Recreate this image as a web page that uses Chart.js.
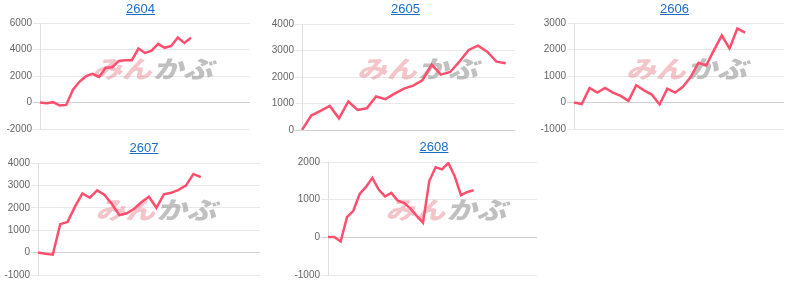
<!DOCTYPE html>
<html>
<head>
<meta charset="utf-8">
<script src="https://cdn.jsdelivr.net/npm/chart.js@4/dist/chart.umd.min.js"></script>
<style>
  html, body { margin: 0; padding: 0; background: #fff; width: 800px; height: 284px; overflow: hidden; position: relative; font-family: Arial, "Liberation Sans", sans-serif; }
  .box { position: absolute; }
  .ttl { position: absolute; left: 0; right: 0; top: 0; height: 18px; line-height: 18px; text-align: center; font-size: 13px; z-index: 2; }
  .ttl a { color: #1a6ec6; text-decoration: underline; }
  canvas { position: absolute; left: 0; top: 0; }
</style>
</head>
<body>
<div class="box" id="b2604" style="left:7px; top:0px; width:267px; height:140px;"><div class="ttl"><a href="#">2604</a></div><canvas id="c2604"></canvas></div>
<div class="box" id="b2605" style="left:272px; top:0px; width:267px; height:140px;"><div class="ttl"><a href="#">2605</a></div><canvas id="c2605"></canvas></div>
<div class="box" id="b2606" style="left:541px; top:0px; width:267px; height:140px;"><div class="ttl"><a href="#">2606</a></div><canvas id="c2606"></canvas></div>
<div class="box" id="b2607" style="left:4px; top:138px; width:280px; height:146px;"><div class="ttl" style="top:1px"><a href="#">2607</a></div><canvas id="c2607"></canvas></div>
<div class="box" id="b2608" style="left:294px; top:138px; width:280px; height:146px;"><div class="ttl"><a href="#">2608</a></div><canvas id="c2608"></canvas></div>
<script>
// 各銘柄の損益推移
var codes = ['2604', '2605', '2606', '2607', '2608'];

var values2604 = [0, -50, 25, -230, -180, 950, 1560, 1985, 2170, 1935, 2620, 2660, 3130, 3190, 3190, 4070, 3740, 3920, 4420, 4130, 4270, 4900, 4500, 4880];
var values2605 = [0, 545, 720, 910, 440, 1075, 760, 820, 1265, 1165, 1370, 1560, 1675, 1875, 2470, 2090, 2190, 2580, 3020, 3180, 2955, 2580, 2515];
var values2606 = [0, -60, 550, 375, 550, 375, 250, 60, 650, 460, 300, -75, 525, 375, 590, 960, 1500, 1400, 1975, 2525, 2040, 2790, 2640];
var values2607 = [0, -50, -90, 1270, 1370, 2050, 2640, 2450, 2775, 2570, 2155, 1670, 1755, 1960, 2260, 2495, 2000, 2600, 2670, 2800, 3000, 3510, 3365];
var values2608 = [10, 10, -110, 535, 705, 1150, 1340, 1580, 1270, 1085, 1180, 975, 915, 770, 570, 390, 1500, 1860, 1805, 1975, 1625, 1120, 1205, 1250];

// 横軸の日数（表示はしない）
var days2604 = 33, days2605 = 24, days2606 = 28, days2607 = 31, days2608 = 34;

// 縦軸の範囲と目盛り
var yMin = { '2604': -2000, '2605': 0, '2606': -1000, '2607': -1000, '2608': -1000 };
var yMax = { '2604': 6000, '2605': 4000, '2606': 3000, '2607': 4000, '2608': 2000 };
var yStep = { '2604': 2000, '2605': 1000, '2606': 1000, '2607': 1000, '2608': 1000 };

var lineColor = '#ff4f6e';

// ウォーターマーク（キャンバス中央より少し右）
var logoPlugin = {
    id: 'logo',
    beforeDatasetsDraw: function(chart) {
        var ctx = chart.ctx;
        var cx = chart.width / 2 + 14;
        var cy = chart.height / 2 - 1;
        ctx.save();
        ctx.translate(cx, cy);
        ctx.transform(1, 0, -0.3, 1, 0, 0);
        ctx.scale(1.3, 1.05);
        ctx.font = '900 23px "Noto Sans CJK JP"';
        ctx.textBaseline = 'middle';
        ctx.textAlign = 'right';
        ctx.fillStyle = 'rgba(232, 140, 150, 0.5)';
        ctx.fillText('みん', 0, 0);
        ctx.textAlign = 'left';
        ctx.fillStyle = 'rgba(150, 150, 150, 0.6)';
        ctx.fillText('かぶ', 1, 0);
        ctx.restore();
    }
};

function makeChart(code, values, days, axisWidth, pad) {
    var labels = [];
    for (var i = 1; i <= days; i++) labels.push(i);
    var el = document.getElementById('c' + code);
    var box = document.getElementById('b' + code);
    el.width = parseInt(box.style.width);
    el.height = parseInt(box.style.height);
    el.style.width = box.style.width;
    el.style.height = box.style.height;
    return new Chart(el.getContext('2d'), {
        type: 'line',
        data: {
            labels: labels,
            datasets: [{
                label: code,
                data: values,
                borderColor: lineColor,
                borderWidth: 2.5,
                pointRadius: 0,
                fill: false,
                tension: 0
            }]
        },
        options: {
            responsive: false,
            animation: false,
            maintainAspectRatio: false,
            layout: { padding: pad },
            plugins: { legend: { display: false }, title: { display: false }, tooltip: { enabled: false } },
            scales: {
                x: { display: false },
                y: {
                    min: yMin[code],
                    max: yMax[code],
                    afterFit: function(scale) { scale.width = axisWidth; },
                    ticks: {
                        stepSize: yStep[code],
                        color: '#666',
                        padding: 1,
                        font: { family: 'Arial', size: 10 },
                        callback: function(v) { return String(v); }
                    },
                    grid: {
                        color: function(c) { return c.tick && c.tick.value === 0 ? 'rgba(0,0,0,0.18)' : 'rgba(0,0,0,0.09)'; },
                        tickLength: 7
                    },
                    border: { color: 'rgba(0,0,0,0.12)' }
                }
            }
        },
        plugins: [logoPlugin]
    });
}

makeChart('2604', values2604, days2604, 33, { top: 23, bottom: 11, left: 0, right: 24 });
makeChart('2605', values2605, days2605, 30, { top: 24, bottom: 10, left: 0, right: 24 });
makeChart('2606', values2606, days2606, 33, { top: 23, bottom: 11, left: 0, right: 24 });
makeChart('2607', values2607, days2607, 34, { top: 25, bottom: 9, left: 0, right: 24 });
makeChart('2608', values2608, days2608, 34, { top: 24, bottom: 9, left: 0, right: 37 });
</script>
</body>
</html>
